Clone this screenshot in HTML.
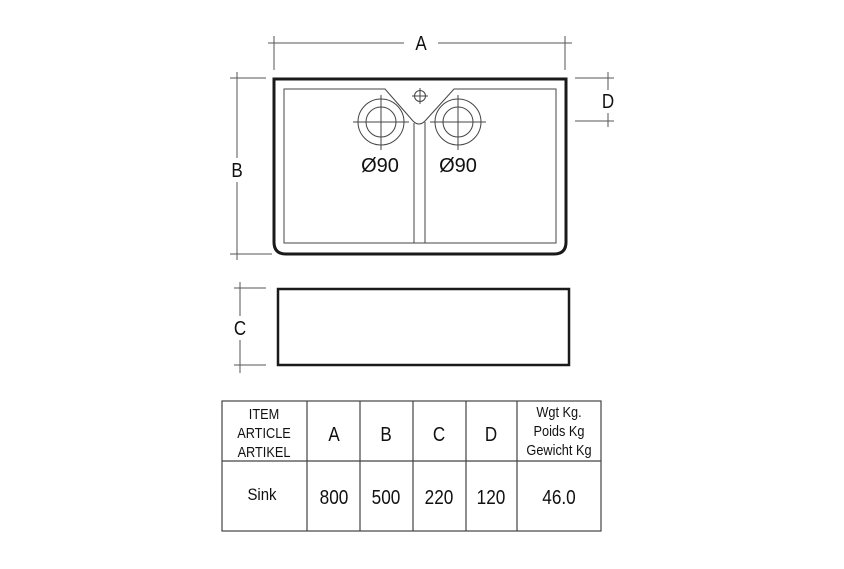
<!DOCTYPE html>
<html><head><meta charset="utf-8"><style>
html,body{margin:0;padding:0;background:#fff;}
svg{display:block;}
text{font-family:"Liberation Sans",sans-serif;fill:#111;}
</style></head><body>
<svg width="844" height="569" viewBox="0 0 844 569" xmlns="http://www.w3.org/2000/svg">
<g stroke="#555" stroke-width="1" fill="none">
 <line x1="268" y1="43" x2="404" y2="43"/><line x1="438" y1="43" x2="572" y2="43"/>
 <line x1="274" y1="36" x2="274" y2="70"/><line x1="565" y1="36" x2="565" y2="70"/>
 <line x1="237" y1="72" x2="237" y2="158"/><line x1="237" y1="182" x2="237" y2="260"/>
 <line x1="230" y1="78" x2="266" y2="78"/><line x1="230" y1="254" x2="272" y2="254"/>
 <line x1="608" y1="72" x2="608" y2="90"/><line x1="608" y1="113" x2="608" y2="127"/>
 <line x1="575" y1="78" x2="614" y2="78"/><line x1="575" y1="121" x2="614" y2="121"/>
 <line x1="240" y1="282" x2="240" y2="316"/><line x1="240" y1="340" x2="240" y2="373"/>
 <line x1="234" y1="288" x2="266" y2="288"/><line x1="234" y1="365" x2="266" y2="365"/>
</g>
<path d="M274 79 L566 79 L566 242 Q566 254 554 254 L286 254 Q274 254 274 242 Z" fill="none" stroke="#1a1a1a" stroke-width="3"/>
<g stroke="#444" stroke-width="1" fill="none">
 <path d="M284 89 L385 89 L413 121 Q419 127 425 121 L454 89 L556 89 L556 243 L284 243 Z"/>
 <line x1="414" y1="123" x2="414" y2="243"/><line x1="425" y1="122" x2="425" y2="243"/>
 <circle cx="420" cy="96" r="5.5"/><line x1="412" y1="96" x2="428" y2="96"/><line x1="420" y1="88" x2="420" y2="104"/>
 <circle cx="381" cy="122" r="23"/><circle cx="381" cy="122" r="15"/>
 <line x1="353" y1="122" x2="409" y2="122"/><line x1="381" y1="95" x2="381" y2="150"/>
 <circle cx="458" cy="122" r="23"/><circle cx="458" cy="122" r="15"/>
 <line x1="430" y1="122" x2="486" y2="122"/><line x1="458" y1="95" x2="458" y2="150"/>
</g>
<text x="380" y="172" font-size="20" text-anchor="middle">Ø90</text>
<text x="458" y="172" font-size="20" text-anchor="middle">Ø90</text>
<text x="421" y="50" font-size="20" text-anchor="middle" transform="translate(421 0) scale(0.85 1) translate(-421 0)">A</text>
<text x="237" y="177" font-size="20" text-anchor="middle" transform="translate(237 0) scale(0.85 1) translate(-237 0)">B</text>
<text x="608" y="108" font-size="20" text-anchor="middle" transform="translate(608 0) scale(0.85 1) translate(-608 0)">D</text>
<text x="240" y="335" font-size="20" text-anchor="middle" transform="translate(240 0) scale(0.85 1) translate(-240 0)">C</text>
<rect x="278" y="289" width="291" height="76" fill="none" stroke="#1a1a1a" stroke-width="2.5"/>
<g stroke="#444" stroke-width="1.2" fill="none">
 <rect x="222" y="401" width="379" height="130"/>
 <line x1="222" y1="461" x2="601" y2="461"/>
 <line x1="307" y1="401" x2="307" y2="531"/><line x1="360" y1="401" x2="360" y2="531"/>
 <line x1="413" y1="401" x2="413" y2="531"/><line x1="466" y1="401" x2="466" y2="531"/>
 <line x1="517" y1="401" x2="517" y2="531"/>
</g>
<g font-size="15" text-anchor="middle">
 <text x="264" y="419" transform="translate(264 0) scale(0.85 1) translate(-264 0)">ITEM</text>
 <text x="264" y="438" transform="translate(264 0) scale(0.85 1) translate(-264 0)">ARTICLE</text>
 <text x="264" y="457" transform="translate(264 0) scale(0.85 1) translate(-264 0)">ARTIKEL</text>
 <text x="559" y="417" transform="translate(559 0) scale(0.85 1) translate(-559 0)">Wgt Kg.</text>
 <text x="559" y="436" transform="translate(559 0) scale(0.85 1) translate(-559 0)">Poids Kg</text>
 <text x="559" y="455" transform="translate(559 0) scale(0.85 1) translate(-559 0)">Gewicht Kg</text>
</g>
<g font-size="20" text-anchor="middle">
 <text x="334" y="441" transform="translate(334 0) scale(0.85 1) translate(-334 0)">A</text>
 <text x="386" y="441" transform="translate(386 0) scale(0.85 1) translate(-386 0)">B</text>
 <text x="439" y="441" transform="translate(439 0) scale(0.85 1) translate(-439 0)">C</text>
 <text x="491" y="441" transform="translate(491 0) scale(0.85 1) translate(-491 0)">D</text>
 <text x="334" y="504" transform="translate(334 0) scale(0.86 1) translate(-334 0)">800</text>
 <text x="386" y="504" transform="translate(386 0) scale(0.86 1) translate(-386 0)">500</text>
 <text x="439" y="504" transform="translate(439 0) scale(0.86 1) translate(-439 0)">220</text>
 <text x="491" y="504" transform="translate(491 0) scale(0.86 1) translate(-491 0)">120</text>
 <text x="559" y="504" transform="translate(559 0) scale(0.86 1) translate(-559 0)">46.0</text>
</g>
<text x="262" y="500" font-size="17" text-anchor="middle" transform="translate(262 0) scale(0.88 1) translate(-262 0)">Sink</text>
</svg>
</body></html>
